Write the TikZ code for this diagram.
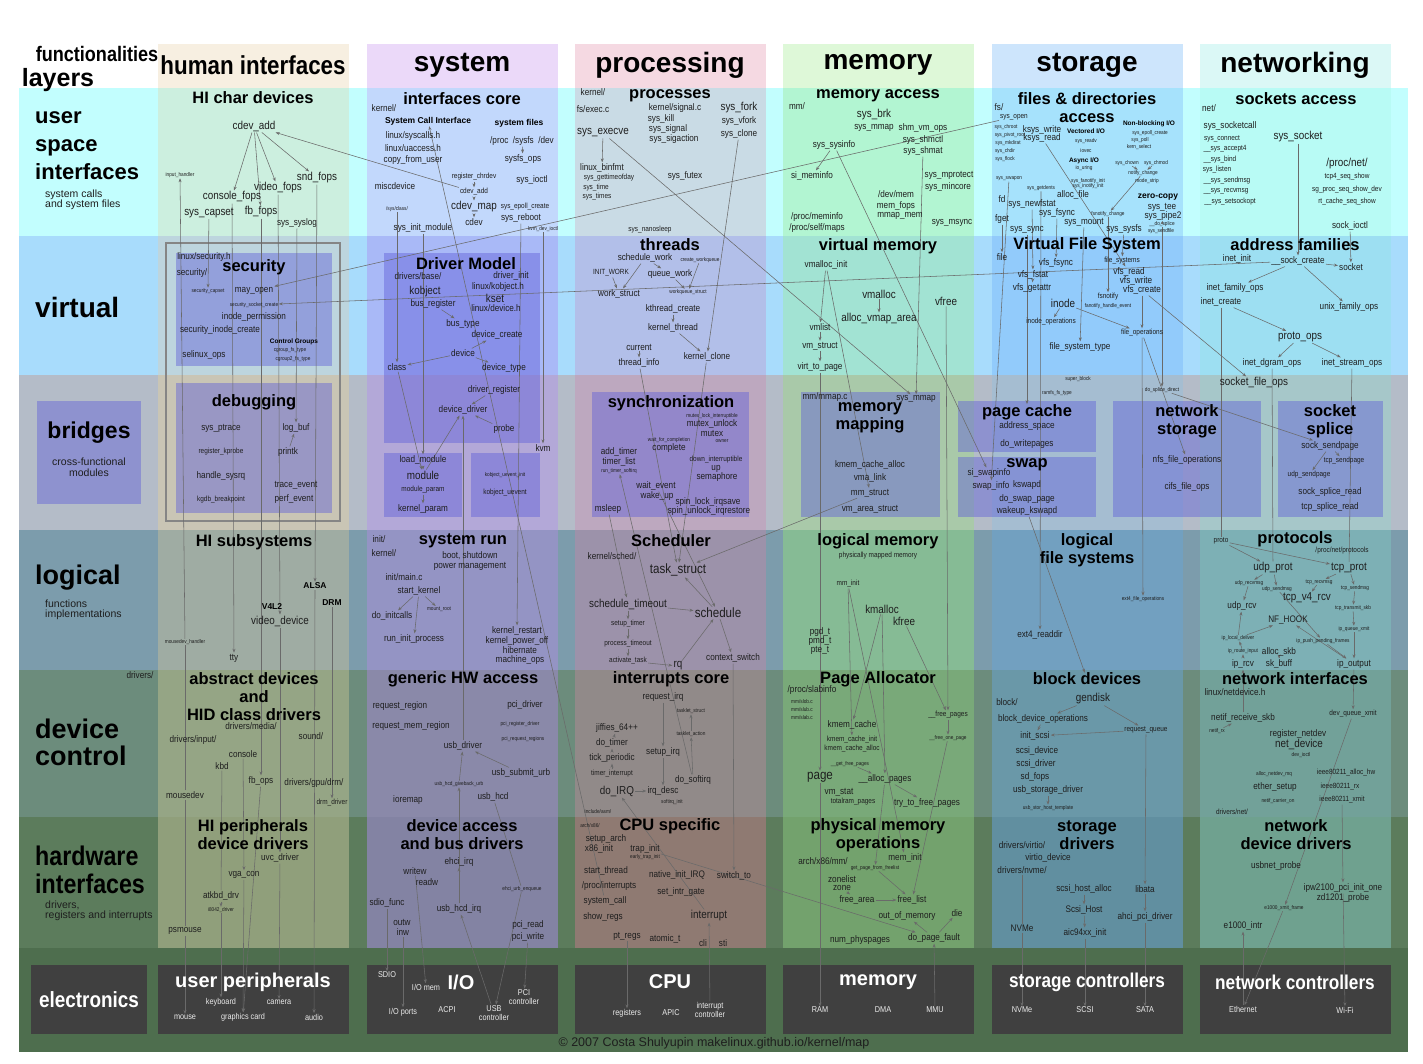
\documentclass[tikz,border=0pt]{standalone}
\usepackage{fontspec}
\setmainfont{Liberation Sans}
\newfontfamily\narrowfont[FakeStretch=0.86]{Liberation Sans}
\usetikzlibrary{arrows.meta}

% layer bands
\definecolor{rowA}{HTML}{C2FEFE}
\definecolor{rowB}{HTML}{A8DCFC}
\definecolor{rowC}{HTML}{B4BCC8}
\definecolor{rowD}{HTML}{7C9CAC}
\definecolor{rowE}{HTML}{6C8C7C}
\definecolor{rowF}{HTML}{5C7C5C}
\definecolor{rowG}{HTML}{4E6E4E}
% cells: row, column
\definecolor{cell11}{HTML}{CCEFDF}\definecolor{cell12}{HTML}{C2D8FC}\definecolor{cell13}{HTML}{C9DBE5}
\definecolor{cell14}{HTML}{B2F5D2}\definecolor{cell15}{HTML}{A6E2FC}\definecolor{cell16}{HTML}{B8FBF5}
\definecolor{cell21}{HTML}{BDD5DE}\definecolor{cell22}{HTML}{A9B9F7}\definecolor{cell23}{HTML}{B2BFE9}
\definecolor{cell24}{HTML}{A2E3D3}\definecolor{cell25}{HTML}{92CBFB}\definecolor{cell26}{HTML}{9DDFF2}
\definecolor{cell31}{HTML}{C9C5B5}\definecolor{cell32}{HTML}{B3A8D8}\definecolor{cell33}{HTML}{BDA8BF}
\definecolor{cell34}{HTML}{A9C9A9}\definecolor{cell35}{HTML}{A5BDD1}\definecolor{cell36}{HTML}{A6C7C9}
\definecolor{cell41}{HTML}{9FACA3}\definecolor{cell42}{HTML}{9494C4}\definecolor{cell43}{HTML}{9C92AA}
\definecolor{cell44}{HTML}{86BB95}\definecolor{cell45}{HTML}{72A0C0}\definecolor{cell46}{HTML}{7DB0B5}
\definecolor{cell51}{HTML}{95A585}\definecolor{cell52}{HTML}{8A89A9}\definecolor{cell53}{HTML}{918A89}
\definecolor{cell54}{HTML}{79A979}\definecolor{cell55}{HTML}{6A98A8}\definecolor{cell56}{HTML}{72A199}
\definecolor{cell61}{HTML}{909F7B}\definecolor{cell62}{HTML}{8383A3}\definecolor{cell63}{HTML}{8F7A72}
\definecolor{cell64}{HTML}{73A26D}\definecolor{cell65}{HTML}{618FA0}\definecolor{cell66}{HTML}{6FA18F}
% column headers
\definecolor{hd1}{HTML}{F7EFE1}\definecolor{hd2}{HTML}{EBD9F9}\definecolor{hd3}{HTML}{F5D9E2}
\definecolor{hd4}{HTML}{DEF8D8}\definecolor{hd5}{HTML}{CDE5FC}\definecolor{hd6}{HTML}{DBF8F6}
\definecolor{boxc}{HTML}{6060D8}
\definecolor{hwgray}{HTML}{404040}
\definecolor{framegray}{HTML}{858585}
\definecolor{wire}{HTML}{6A6A6A}
\definecolor{txt}{HTML}{1E1E1E}

\pgfdeclarelayer{bg}
\pgfdeclarelayer{wires}
\pgfsetlayers{bg,wires,main}

\tikzset{
  hdr/.style={font=\fontsize{28}{30}\selectfont\bfseries, inner sep=0pt},
  ttl/.style={font=\fontsize{16.5}{18}\selectfont\bfseries, align=center, inner sep=0pt},
  lyr/.style={font=\fontsize{22}{28}\selectfont\bfseries, align=left, anchor=west, inner sep=0pt},
  lsub/.style={font=\fontsize{10.5}{10.5}\selectfont, align=left, anchor=west, inner sep=0pt, text=txt},
  bg/.style={font=\narrowfont\fontsize{13.5}{14}\selectfont, inner sep=1pt, text=txt},
  fn/.style={font=\narrowfont\fontsize{11.5}{12}\selectfont, inner sep=1pt, text=txt},
  sm/.style={font=\narrowfont\fontsize{9.5}{10}\selectfont, inner sep=1pt, text=txt},
  xs/.style={font=\narrowfont\fontsize{7.5}{8}\selectfont, inner sep=1pt, text=txt},
  tn/.style={font=\narrowfont\fontsize{5.5}{6}\selectfont, inner sep=0.5pt, text=txt},
  bs/.style={font=\fontsize{8.5}{9}\selectfont\bfseries, inner sep=1pt},
  tb/.style={font=\fontsize{6.5}{7}\selectfont\bfseries, inner sep=0.5pt},
  subbox/.style={fill=boxc, fill opacity=0.45},
  hwt/.style={font=\fontsize{20}{22}\selectfont\bfseries, text=white, inner sep=0pt},
  hwl/.style={font=\narrowfont\fontsize{8.5}{9.5}\selectfont, text=white!92!black, align=center, inner sep=0.5pt},
  ar/.style={draw=wire, line width=0.55pt, -{Stealth[length=4pt,width=3pt]}},
  ln/.style={draw=wire, line width=0.55pt},
}

\begin{document}
\begin{tikzpicture}[x=1pt, y=-1pt]
\useasboundingbox (0,0) rectangle (1423,1063);

\begin{pgfonlayer}{bg}
  % Layer bands
  \foreach \c/\ya/\yb in {rowA/88/236, rowB/236/375, rowC/375/530, rowD/530/670,
                          rowE/670/817, rowF/817/948, rowG/948/1052}
    \fill[fill=\c] (19,\ya) rectangle (1408,\yb);
  % Column cells
  \foreach \r/\ya/\yb in {1/88/236, 2/236/375, 3/375/530, 4/530/670, 5/670/817, 6/817/948}
    \foreach \c/\xa in {1/158, 2/367, 3/575, 4/783, 5/992, 6/1200}
      \fill[fill=cell\r\c] (\xa,\ya) rectangle (\xa+191,\yb);
  % Column headers
  \foreach \c/\xa in {1/158, 2/367, 3/575, 4/783, 5/992, 6/1200}
    \fill[fill=hd\c] (\xa,44) rectangle (\xa+191,88);
  % Cross-functional boxes
  \fill[subbox] (37,401) rectangle (141,504);
  \fill[subbox] (176,253) rectangle (332,366);
  \fill[subbox] (176,383) rectangle (332,513);
  \fill[subbox] (384,253) rectangle (540,443);
  \fill[subbox] (384,453) rectangle (462,517);
  \fill[subbox] (471,453) rectangle (540,517);
  \fill[subbox] (592,392) rectangle (749,517);
  \fill[subbox] (801,392) rectangle (940,517);
  \fill[subbox] (958,401) rectangle (1096,452);
  \fill[subbox] (958,457) rectangle (1096,517);
  \fill[subbox] (1113,401) rectangle (1261,517);
  \fill[subbox] (1278,401) rectangle (1383,517);
  \draw[framegray, line width=1.3pt] (166,243) rectangle (340,521);
  % Electronics
  \fill[hwgray] (31,965) rectangle (147,1034);
  \foreach \xa in {158,367,575,783,992,1200}
    \fill[hwgray] (\xa,965) rectangle (\xa+191,1034);
\end{pgfonlayer}

% Headers
\node[font=\narrowfont\fontsize{21}{23}\selectfont\bfseries, inner sep=0pt] (hfunc) at (97,54) {functionalities};
\node[font=\fontsize{25}{27}\selectfont\bfseries, inner sep=0pt] (hlayers) at (58,80) {layers};
\node[hdr, font=\narrowfont\fontsize{26}{28}\selectfont\bfseries] (hhuman) at (253,65) {human interfaces};
\foreach \n/\px/\txt in {hsystem/462/system, hproc/670/processing, hmem/878/memory,
                         hstor/1087/storage, hnet/1295/networking}
  \node[hdr] (\n) at (\px,65) {\txt};

% Layer labels
\node[lyr] (luser) at (35,146) {user\\space\\interfaces};
\node[lsub] (lusersub) at (45,200) {system calls\\and system files};
\node[lyr, font=\fontsize{28}{30}\selectfont\bfseries] (lvirt) at (35,307) {virtual};
\node[font=\fontsize{23}{25}\selectfont\bfseries, inner sep=0pt] (lbridges) at (89,433) {bridges};
\node[lsub, anchor=center, align=center, font=\fontsize{10.5}{11}\selectfont] (lbridgessub) at (89,467) {cross-functional\\modules};
\node[lyr, font=\fontsize{27}{29}\selectfont\bfseries] (llogical) at (35,578) {logical};
\node[lsub] (llogicalsub) at (45,610) {functions\\implementations};
\node[lyr, font=\fontsize{27}{27}\selectfont\bfseries] (ldevice) at (35,742) {device\\control};
\node[lyr, font=\narrowfont\fontsize{27}{28}\selectfont\bfseries] (lhw) at (35,870) {hardware\\interfaces};
\node[lsub] (lhwsub) at (45,911) {drivers,\\registers and interrupts};
\node[font=\narrowfont\fontsize{22}{24}\selectfont\bfseries, text=white, inner sep=0pt] (lelec) at (89,1000) {electronics};
\node[sm] (driversdir) at (140,675) {drivers/};

% Cell titles
\foreach \n/\px/\py/\txt in {
  hichar/253/98/{HI char devices}, ifcore/462/99/{interfaces core}, processes/670/96/{processes},
  memaccess/878/96/{memory access}, filesdirs/1087/108/{files \& directories\\access},
  sockacc/1296/99/{sockets access},
  security/254/267/{security}, drivermodel/466/264/{Driver Model}, threads/670/245/{threads},
  virtmem/878/246/{virtual memory}, vfs/1087/245/{Virtual File System}, addrfam/1295/245/{address families},
  debugging/254/402/{debugging}, sync/671/403/{synchronization}, memmapping/870/418/{memory\\mapping},
  pagecache/1027/412/{page cache}, swap/1027/465/{swap}, netstorage/1187/421/{network\\storage},
  socksplice/1330/421/{socket\\splice},
  hisubsys/254/542/{HI subsystems}, sysrun/463/541/{system run}, scheduler/671/541/{Scheduler},
  logmem/878/541/{logical memory}, logfs/1087/550/{logical\\file systems}, protocols/1295/539/{protocols},
  absdev/254/697/{abstract devices\\and\\HID class drivers}, genhw/463/679/{generic HW access},
  irqcore/671/679/{interrupts core}, pagealloc/878/679/{Page Allocator}, blockdev/1087/679/{block devices},
  netif/1295/679/{network interfaces},
  hiperiph/253/835/{HI peripherals\\device drivers}, devaccess/462/835/{device access\\and bus drivers},
  cpuspec/670/826/{CPU specific}, physmem/878/835/{physical memory\\operations},
  stordrv/1087/835/{storage\\drivers}, netdevdrv/1296/835/{network\\device drivers}}
  \node[ttl] (\n) at (\px,\py) {\txt};

% Large labels
\foreach \n/\px/\py/\txt in {
  taskstruct/678/570/{task\_struct}, schedule/718/613/{schedule}, page/820/777/{page}}
  \node[bg] (\n) at (\px,\py) {\txt};

% Function labels
\foreach \n/\px/\py/\txt in {
  hicdevadd/254/126/{cdev\_add}, consolefops/232/197/{console\_fops}, videofops/278/188/{video\_fops},
  sndfops/317/178/{snd\_fops}, syscapset/209/213/{sys\_capset}, fbfops/261/212/{fb\_fops},
  cdevmap/474/207/{cdev\_map}, sysfork/739/108/{sys\_fork}, sysexecve/603/133/{sys\_execve},
  sysbrk/874/115/{sys\_brk}, syssocket/1298/137/{sys\_socket}, procnet/1347/164/{/proc/net/},
  kobject/425/292/{kobject}, kset/495/298/{kset}, vmalloc/879/294/{vmalloc}, vfree/946/301/{vfree},
  allocvmap/879/319/{alloc\_vmap\_area}, inode/1063/303/{inode}, protoops/1300/337/{proto\_ops},
  module/423/475/{module}, socketfileops/1254/383/{socket\_file\_ops},
  videodevice/280/621/{video\_device}, scheduletimeout/628/604/{schedule\_timeout}, rq/678/666/{rq},
  kmalloc/882/609/{kmalloc}, kfree/904/621/{kfree}, udpprot/1273/568/{udp\_prot},
  tcpprot/1349/568/{tcp\_prot}, tcpvrcv/1307/598/{tcp\_v4\_rcv}, doirq/617/791/{do\_IRQ},
  gendisk/1093/699/{gendisk}, netdevice/1299/744/{net\_device}, interrupt/709/916/{interrupt}}
  \node[fn] (\n) at (\px,\py) {\txt};

% Small labels
\foreach \n/\px/\py/\txt in {
  syssyslog/297/223/{sys\_syslog},
  kernelA/384/108/{kernel/}, syscallsh/413/136/{linux/syscalls.h}, uaccessh/413/148/{linux/uaccess.h},
  copyfromuser/413/160/{copy\_from\_user}, procsysfs/522/141/{/proc \ /sysfs \ /dev},
  sysfsops/523/159/{sysfs\_ops}, sysioctl/532/180/{sys\_ioctl}, miscdevice/395/186/{miscdevice},
  sysreboot/521/218/{sys\_reboot}, cdev/474/222/{cdev}, sysinitmodule/423/228/{sys\_init\_module},
  kernelB/593/92/{kernel/}, fsexec/593/109/{fs/exec.c}, signalc/675/108/{kernel/signal.c},
  syskill/661/119/{sys\_kill}, sysvfork/739/121/{sys\_vfork}, syssignal/668/129/{sys\_signal},
  sysclone/739/134/{sys\_clone}, syssigaction/674/139/{sys\_sigaction}, linuxbinfmt/602/168/{linux\_binfmt},
  sysfutex/685/176/{sys\_futex},
  mmdir/797/106/{mm/}, sysmmap/874/128/{sys\_mmap}, shmvmops/923/128/{shm\_vm\_ops},
  sysshmctl/923/140/{sys\_shmctl}, syssysinfo/834/145/{sys\_sysinfo}, sysshmat/923/151/{sys\_shmat},
  simeminfo/812/176/{si\_meminfo}, sysmprotect/949/175/{sys\_mprotect}, sysmincore/948/187/{sys\_mincore},
  devmem/896/194/{/dev/mem}, memfops/896/206/{mem\_fops}, mmapmem/900/216/{mmap\_mem},
  procmeminfo/817/217/{/proc/meminfo}, procselfmaps/817/228/{/proc/self/maps}, sysmsync/952/223/{sys\_msync},
  fsdir/999/107/{fs/}, ksyswrite/1042/130/{ksys\_write}, ksysread/1042/138/{ksys\_read},
  allocfile/1073/195/{alloc\_file}, fd/1002/199/{fd}, sysnewfstat/1032/204/{sys\_newfstat},
  systee/1162/207/{sys\_tee}, sysfsync/1057/213/{sys\_fsync}, syspipe/1163/216/{sys\_pipe2},
  fget/1002/219/{fget}, sysmount/1084/222/{sys\_mount}, syssync/1027/230/{sys\_sync},
  syssysfs/1124/229/{sys\_sysfs},
  netdir/1209/108/{net/}, syssocketcall/1230/126/{sys\_socketcall}, sockioctl/1350/226/{sock\_ioctl},
  securityh/204/257/{linux/security.h}, securitydir/192/273/{security/}, mayopen/254/291/{may\_open},
  inodeperm/254/317/{inode\_permission}, secinodecreate/220/330/{security\_inode\_create},
  selinuxops/204/355/{selinux\_ops},
  driversbase/418/276/{drivers/base/}, driverinit/511/276/{driver\_init}, kobjecth/498/287/{linux/kobject.h},
  busregister/433/304/{bus\_register}, deviceh/496/308/{linux/device.h}, bustype/463/324/{bus\_type},
  devicecreate/497/335/{device\_create}, device/463/353/{device}, class/397/367/{class},
  devicetype/504/368/{device\_type},
  schedulework/645/258/{schedule\_work}, queuework/670/274/{queue\_work}, workstruct/619/294/{work\_struct},
  kthreadcreate/673/309/{kthread\_create}, kernelthread/673/328/{kernel\_thread}, current/639/347/{current},
  kernelclone/707/357/{kernel\_clone}, threadinfo/639/363/{thread\_info},
  vmallocinit/826/265/{vmalloc\_init}, vmlist/820/327/{vmlist}, vmstruct/820/346/{vm\_struct},
  virttopage/820/367/{virt\_to\_page},
  file/1002/257/{file}, vfsfsync/1056/263/{vfs\_fsync}, vfsread/1129/272/{vfs\_read},
  vfsfstat/1033/275/{vfs\_fstat}, vfswrite/1136/281/{vfs\_write}, vfsgetattr/1032/288/{vfs\_getattr},
  vfscreate/1142/290/{vfs\_create}, filesystype/1080/347/{file\_system\_type},
  inetinit/1237/259/{inet\_init}, sockcreate/1298/261/{\_\_sock\_create}, socket/1351/267/{socket},
  inetfamilyops/1235/288/{inet\_family\_ops}, inetcreate/1221/302/{inet\_create},
  unixfamilyops/1349/307/{unix\_family\_ops}, inetdgramops/1272/363/{inet\_dgram\_ops},
  inetstreamops/1352/363/{inet\_stream\_ops},
  sysptrace/221/428/{sys\_ptrace}, logbuf/296/428/{log\_buf}, printk/288/452/{printk},
  handlesysrq/221/476/{handle\_sysrq}, traceevent/296/485/{trace\_event}, perfevent/294/499/{perf\_event},
  driverregister/494/390/{driver\_register}, devicedriver/463/410/{device\_driver}, probe/504/429/{probe},
  kvm/543/448/{kvm}, loadmodule/423/460/{load\_module}, kernelparam/423/509/{kernel\_param},
  mutexunlock/712/424/{mutex\_unlock}, mutex/712/433/{mutex}, complete/669/448/{complete},
  addtimer/619/452/{add\_timer}, timerlist/619/462/{timer\_list}, up/716/469/{up},
  semaphore/717/477/{semaphore}, waitevent/656/486/{wait\_event}, wakeup/657/496/{wake\_up},
  spinlock/708/502/{spin\_lock\_irqsave}, spinunlock/709/511/{spin\_unlock\_irqrestore}, msleep/608/509/{msleep},
  mmapc/825/397/{mm/mmap.c}, mmsysmmap/916/399/{sys\_mmap}, kmcachealloc/870/465/{kmem\_cache\_alloc},
  vmalink/870/478/{vma\_link}, mmstruct/870/493/{mm\_struct}, vmareastruct/870/509/{vm\_area\_struct},
  addrspace/1027/426/{address\_space}, dowritepages/1027/444/{do\_writepages}, siswapinfo/989/473/{si\_swapinfo},
  swapinfo/991/486/{swap\_info}, kswapd/1027/485/{kswapd}, doswappage/1027/499/{do\_swap\_page},
  wakeupkswapd/1027/511/{wakeup\_kswapd}, nfsfileops/1187/460/{nfs\_file\_operations},
  cifsfileops/1187/487/{cifs\_file\_ops},
  socksendpage/1330/446/{sock\_sendpage}, socksplread/1330/492/{sock\_splice\_read},
  tcpsplread/1330/507/{tcp\_splice\_read},
  tty/234/658/{tty},
  initdir/379/539/{init/}, kernelC/384/553/{kernel/}, initmainc/404/577/{init/main.c},
  startkernel/419/591/{start\_kernel}, doinitcalls/392/616/{do\_initcalls}, runinit/414/639/{run\_init\_process},
  kernelrestart/517/631/{kernel\_restart}, kernelpoweroff/517/641/{kernel\_power\_off},
  hibernate/520/650/{hibernate}, machineops/520/660/{machine\_ops},
  kernelsched/612/556/{kernel/sched/}, contextswitch/733/658/{context\_switch},
  pgdt/820/632/{pgd\_t}, pmdt/820/641/{pmd\_t}, ptet/820/650/{pte\_t}, ext4readdir/1040/635/{ext4\_readdir},
  udprcv/1242/606/{udp\_rcv}, nfhook/1288/620/{NF\_HOOK}, allocskb/1279/652/{alloc\_skb},
  iprcv/1243/664/{ip\_rcv}, skbuff/1279/664/{sk\_buff}, ipoutput/1354/664/{ip\_output},
  driversmedia/251/726/{drivers/media/}, sound/311/736/{sound/}, driversinput/193/740/{drivers/input/},
  console/243/754/{console}, kbd/222/766/{kbd}, fbops/261/781/{fb\_ops}, driversgpu/314/783/{drivers/gpu/drm/},
  mousedev/185/795/{mousedev},
  requestregion/400/706/{request\_region}, pcidriver/525/705/{pci\_driver},
  requestmemregion/411/726/{request\_mem\_region}, usbdriver/463/746/{usb\_driver},
  usbsubmiturb/521/773/{usb\_submit\_urb}, ioremap/408/800/{ioremap}, usbhcd/493/797/{usb\_hcd},
  requestirq/663/697/{request\_irq}, jiffies/617/728/{jiffies\_64++}, dotimer/612/743/{do\_timer},
  setupirq/663/752/{setup\_irq}, tickperiodic/612/758/{tick\_periodic}, dosoftirq/693/780/{do\_softirq},
  irqdesc/663/791/{irq\_desc},
  procslabinfo/812/690/{/proc/slabinfo}, kmemcache/852/725/{kmem\_cache}, allocpages/885/779/{\_\_alloc\_pages},
  vmstat/839/792/{vm\_stat}, trytofree/927/803/{try\_to\_free\_pages},
  blockdir/1007/702/{block/}, blockdevops/1043/719/{block\_device\_operations}, initscsi/1035/736/{init\_scsi},
  scsidevice/1037/751/{scsi\_device}, scsidriver/1036/764/{scsi\_driver}, sdfops/1035/777/{sd\_fops},
  usbstoragedriver/1048/790/{usb\_storage\_driver},
  netdeviceh/1235/692/{linux/netdevice.h}, netifreceiveskb/1243/718/{netif\_receive\_skb},
  registernetdev/1298/734/{register\_netdev}, ethersetup/1275/787/{ether\_setup},
  uvcdriver/280/858/{uvc\_driver}, vgacon/244/875/{vga\_con}, atkbddrv/221/896/{atkbd\_drv},
  psmouse/185/931/{psmouse},
  ehciirq/459/862/{ehci\_irq}, writew/415/871/{writew}, readw/427/882/{readw}, sdiofunc/387/903/{sdio\_func},
  usbhcdirq/459/909/{usb\_hcd\_irq}, outw/402/922/{outw}, inw/403/932/{inw}, pciread/528/925/{pci\_read},
  pciwrite/528/937/{pci\_write},
  setuparch/606/839/{setup\_arch}, xinit/599/849/{x86\_init}, trapinit/645/849/{trap\_init},
  startthread/606/871/{start\_thread}, nativeinitirq/677/875/{native\_init\_IRQ}, switchto/734/876/{switch\_to},
  procinterrupts/609/886/{/proc/interrupts}, setintrgate/681/892/{set\_intr\_gate},
  systemcall/605/901/{system\_call}, showregs/603/917/{show\_regs}, ptregs/627/936/{pt\_regs},
  atomict/665/939/{atomic\_t}, cli/703/943/{cli}, sti/723/943/{sti},
  archmm/823/861/{arch/x86/mm/}, meminit/905/858/{mem\_init}, zonelist/842/879/{zonelist}, zone/842/888/{zone},
  freearea/857/900/{free\_area}, freelist/912/900/{free\_list}, outofmemory/907/916/{out\_of\_memory},
  die/957/913/{die}, numphyspages/860/940/{num\_physpages}, dopagefault/934/938/{do\_page\_fault},
  driversvirtio/1022/845/{drivers/virtio/}, virtiodevice/1048/858/{virtio\_device},
  driversnvme/1022/870/{drivers/nvme/}, scsihostalloc/1084/889/{scsi\_host\_alloc}, libata/1145/889/{libata},
  scsihost/1084/910/{Scsi\_Host}, ahcipcidriver/1145/917/{ahci\_pci\_driver}, nvmedrv/1022/928/{NVMe},
  aicinit/1085/933/{aic94xx\_init},
  usbnetprobe/1276/866/{usbnet\_probe}, ipw/1343/888/{ipw2100\_pci\_init\_one},
  zdprobe/1343/898/{zd1201\_probe}, eintr/1243/926/{e1000\_intr}}
  \node[sm] (\n) at (\px,\py) {\txt};
\node[sm, align=center, font=\narrowfont\fontsize{9.5}{10}\selectfont] (bootshut) at (470,561) {boot, shutdown\\power management};

% Very small labels
\foreach \n/\px/\py/\txt in {
  registerchrdev/474/177/{register\_chrdev}, sccdevadd/474/192/{cdev\_add}, sysepollA/525/207/{sys\_epoll\_create},
  sysgettimeofday/609/178/{sys\_gettimeofday}, systime/596/188/{sys\_time}, systimes/597/197/{sys\_times},
  sysnanosleep/650/230/{sys\_nanosleep}, sysopen/1014/117/{sys\_open},
  sysconnect/1222/139/{sys\_connect}, sysaccept/1225/149/{\_\_sys\_accept4}, sysbind/1220/160/{\_\_sys\_bind},
  syslisten/1217/170/{sys\_listen}, tcpseqshow/1347/177/{tcp4\_seq\_show}, syssendmsg/1227/181/{\_\_sys\_sendmsg},
  sgproc/1347/190/{sg\_proc\_seq\_show\_dev}, sysrecvmsg/1226/191/{\_\_sys\_recvmsg},
  rtcache/1347/202/{rt\_cache\_seq\_show}, syssetsockopt/1230/202/{\_\_sys\_setsockopt},
  initwork/611/273/{INIT\_WORK}, filesystems/1122/261/{file\_systems}, fsnotify/1108/297/{fsnotify},
  inodeops/1051/322/{inode\_operations}, fileops/1142/333/{file\_operations},
  registerkprobe/221/452/{register\_kprobe}, kgdb/221/500/{kgdb\_breakpoint},
  moduleparam/423/490/{module\_param}, kobjectuevent/505/493/{kobject\_uevent},
  downint/716/460/{down\_interruptible}, tcpsendpage/1344/461/{tcp\_sendpage}, udpsendpage/1309/475/{udp\_sendpage},
  setuptimer/628/624/{setup\_timer}, processtimeout/628/644/{process\_timeout}, activatetask/628/661/{activate\_task},
  physmapped/878/556/{physically mapped memory}, mminit/848/584/{mm\_init},
  proto/1221/541/{proto}, procnetproto/1342/551/{/proc/net/protocols},
  drmdriver/332/803/{drm\_driver}, timerinterrupt/612/774/{timer\_interrupt},
  freepages/948/715/{\_\_free\_pages}, kmemcacheinit/852/740/{kmem\_cache\_init},
  pakmemcachealloc/852/749/{kmem\_cache\_alloc}, totalram/853/802/{totalram\_pages},
  requestqueue/1146/730/{request\_queue}, devqueuexmit/1353/714/{dev\_queue\_xmit},
  ieeeallochw/1346/773/{ieee80211\_alloc\_hw}, ieeerx/1340/787/{ieee80211\_rx},
  ieeexmit/1342/800/{ieee80211\_xmit}, driversnet/1232/812/{drivers/net/}}
  \node[xs] (\n) at (\px,\py) {\txt};

% Tiny labels
\foreach \n/\px/\py/\txt in {
  inputhandler/180/175/{input\_handler}, sysclass/397/209/{/sys/class/}, kvmdevioctl/543/229/{kvm\_dev\_ioctl},
  syschroot/1006/127/{sys\_chroot}, syspivot/1010/135/{sys\_pivot\_root}, sysmkdirat/1008/143/{sys\_mkdirat},
  syschdir/1005/151/{sys\_chdir}, sysflock/1005/159/{sys\_flock}, sysepollB/1150/133/{sys\_epoll\_create},
  syspoll/1140/140/{sys\_poll}, kernselect/1139/147/{kern\_select}, sysreadv/1086/141/{sys\_readv},
  iovec/1086/151/{iovec}, iouring/1084/168/{io\_uring}, syschown/1127/163/{sys\_chown},
  syschmod/1156/163/{sys\_chmod}, notifychange/1143/173/{notify\_change}, modestrip/1147/181/{mode\_strip},
  sysswapon/1009/179/{sys\_swapon}, fanotifyinit/1088/181/{sys\_fanotify\_init},
  inotifyinit/1088/186/{sys\_inotify\_init}, sysgetdents/1041/188/{sys\_getdents},
  fsnotifychange/1108/214/{fsnotify\_change}, dosplice/1162/224/{\_\_do\_splice},
  syssendfile/1161/231/{sys\_sendfile},
  seccapset/208/291/{security\_capset}, secsocketcreate/254/305/{security\_socket\_create},
  cgroupfs/290/350/{cgroup\_fs\_type}, cgroupfsB/293/359/{cgroup2\_fs\_type},
  createwq/700/260/{create\_workqueue}, wqstruct/688/292/{workqueue\_struct},
  fanotifyev/1108/306/{fanotify\_handle\_event}, kobjueventinit/505/475/{kobject\_uevent\_init},
  mutexlockint/712/416/{mutex\_lock\_interruptible}, waitforcomp/669/440/{wait\_for\_completion},
  owner/722/441/{owner}, runtimersoftirq/619/471/{run\_timer\_softirq},
  superblock/1078/379/{super\_block}, ramfs/1057/393/{ramfs\_fs\_type}, dosplicedirect/1162/390/{do\_splice\_direct},
  mousedevhandler/185/642/{mousedev\_handler}, mountroot/439/609/{mount\_root},
  ext4fileops/1143/599/{ext4\_file\_operations},
  udprecvmsg/1249/583/{udp\_recvmsg}, tcprecvmsg/1319/582/{tcp\_recvmsg}, udpsendmsg/1277/589/{udp\_sendmsg},
  tcpsendmsg/1355/588/{tcp\_sendmsg}, tcptransmit/1353/608/{tcp\_transmit\_skb},
  ipqueuexmit/1354/629/{ip\_queue\_xmit}, iplocaldeliver/1238/638/{ip\_local\_deliver},
  ippush/1323/641/{ip\_push\_pending\_frames}, iprouteinput/1243/651/{ip\_route\_input},
  pciregisterdriver/520/724/{pci\_register\_driver}, pcirequestregions/523/739/{pci\_request\_regions},
  usbhcdgiveback/459/784/{usb\_hcd\_giveback\_urb},
  taskletstruct/691/711/{tasklet\_struct}, taskletaction/691/734/{tasklet\_action},
  softirqinit/672/802/{softirq\_init}, includeasm/598/812/{include/asm/},
  mmslob/802/702/{mm/slob.c}, mmslub/802/710/{mm/slub.c}, mmslab/802/718/{mm/slab.c},
  getfreepages/850/764/{\_\_get\_free\_pages}, freeonepage/948/738/{\_\_free\_one\_page},
  usbstorhost/1048/808/{usb\_stor\_host\_template},
  netifrx/1217/731/{netif\_rx}, devioctl/1301/755/{dev\_ioctl}, allocnetdevmq/1274/774/{alloc\_netdev\_mq},
  netifcarrieron/1278/801/{netif\_carrier\_on},
  ieight/221/910/{i8042\_driver}, ehciurbenqueue/522/889/{ehci\_urb\_enqueue},
  archxdir/590/826/{arch/x86/}, earlytrapinit/645/857/{early\_trap\_init},
  getpagefromfreelist/875/868/{get\_page\_from\_freelist}, exmitframe/1284/908/{e1000\_xmit\_frame}}
  \node[tn] (\n) at (\px,\py) {\txt};

% Bold captions
\foreach \n/\px/\py/\txt in {
  sci/428/121/{System Call Interface}, sysfiles/519/123/{system files}, zerocopy/1158/197/{zero-copy},
  alsa/315/586/{ALSA}, vfl/272/607/{V4L2}, drm/332/603/{DRM}}
  \node[bs] (\n) at (\px,\py) {\txt};
\foreach \n/\px/\py/\txt in {
  vecio/1086/131/{Vectored I/O}, nbio/1149/124/{Non-blocking I/O}, asyncio/1084/161/{Async I/O},
  cgroups/294/342/{Control Groups}}
  \node[tb] (\n) at (\px,\py) {\txt};

% Electronics
\foreach \n/\px/\txt in {userperiph/253/{user peripherals}, io/461/{I/O}, cpu/670/{CPU}, memhw/878/{memory}}
  \node[hwt] (\n) at (\px,982) {\txt};
\node[hwt, font=\narrowfont\fontsize{20}{22}\selectfont\bfseries] (storctrl) at (1087,982) {storage controllers};
\node[hwt, font=\narrowfont\fontsize{20}{22}\selectfont\bfseries] (netctrl) at (1295,982) {network controllers};
\foreach \n/\px/\py/\txt in {
  keyboard/221/1002/{keyboard}, camera/279/1002/{camera}, mouse/185/1017/{mouse},
  graphicscard/243/1017/{graphics card}, audio/314/1017/{audio}, sdio/387/975/{SDIO},
  iomem/426/987/{I/O mem}, pcictrl/524/997/{PCI\\controller}, ioports/403/1012/{I/O ports},
  acpi/447/1010/{ACPI}, usbctrl/494/1013/{USB\\controller}, registers/627/1013/{registers},
  apic/671/1013/{APIC}, irqctrl/710/1010/{interrupt\\controller}, ram/820/1010/{RAM},
  dma/883/1010/{DMA}, mmu/935/1010/{MMU}, nvme/1022/1010/{NVMe}, scsi/1085/1010/{SCSI},
  sata/1145/1010/{SATA}, ethernet/1243/1009/{Ethernet}, wifi/1345/1010/{Wi-Fi}}
  \node[hwl] (\n) at (\px,\py) {\txt};

\node[font=\fontsize{12.5}{13}\selectfont, text=txt, inner sep=0pt] (copyr) at (714,1043)
  {© 2007 Costa Shulyupin makelinux.github.io/kernel/map};

% Connectors
\begin{pgfonlayer}{wires}
  \foreach \a/\b in {
    % human interfaces
    hicdevadd/consolefops, hicdevadd/fbfops, hicdevadd/videofops, hicdevadd/sndfops,
    sccdevadd/hicdevadd, syscapset/seccapset, mousedevhandler/inputhandler, psmouse/mouse,
    consolefops/tty, fbfops/fbops, videofops/videodevice, sndfops/alsa, syssyslog/logbuf,
    printk/logbuf, atkbddrv/ieight, ieight/keyboard, console/vgacon, vgacon/graphicscard,
    fbops/graphicscard, videodevice/uvcdriver, uvcdriver/camera, alsa/audio, drm/drmdriver,
    % system
    registerchrdev/sccdevadd, sccdevadd/cdevmap, cdevmap/cdev, procsysfs/sysfsops,
    systemcall/sci, sysinitmodule/loadmodule, sysclass/class, sysreboot/kernelrestart,
    kvmdevioctl/kvm, busregister/bustype, device/class, device/devicetype, device/devicecreate,
    driverregister/devicedriver, probe/devicedriver, module/devicedriver, class/module,
    loadmodule/module, moduleparam/kernelparam, usbdriver/devicedriver,
    startkernel/doinitcalls, startkernel/runinit, startkernel/mountroot,
    usbsubmiturb/usbdriver, usbhcdgiveback/usbdriver, usbhcdirq/usbhcdgiveback,
    usbhcdirq/ehciirq, usbctrl/usbhcdirq, ehciurbenqueue/usbctrl, pciwrite/pcictrl,
    sdiofunc/sdio, writew/iomem, inw/ioports,
    % processing
    sysexecve/linuxbinfmt, sysexecve/mmsysmmap, sysclone/kernelclone,
    schedulework/workstruct, schedulework/queuework, initwork/workstruct, queuework/wqstruct,
    createwq/wqstruct, kthreadcreate/kernelthread, kernelthread/kernelclone, current/threadinfo,
    kernelclone/taskstruct, threadinfo/taskstruct, msleep/scheduletimeout, waitevent/schedule,
    scheduletimeout/schedule, scheduletimeout/setuptimer, setuptimer/processtimeout,
    processtimeout/activatetask, activatetask/rq, rq/schedule, schedule/taskstruct,
    schedule/contextswitch, contextswitch/switchto, requestirq/setupirq, setupirq/irqdesc,
    doirq/irqdesc, timerinterrupt/tickperiodic, tickperiodic/dotimer, dotimer/jiffies,
    dosoftirq/taskletaction, taskletaction/taskletstruct, dosoftirq/runtimersoftirq,
    interrupt/doirq, irqctrl/interrupt, ptregs/registers, trapinit/dopagefault,
    % memory
    syssysinfo/simeminfo, syssysinfo/siswapinfo, sysshmat/mmsysmmap, vmalloc/allocvmap,
    vmallocinit/vmlist, vmlist/vmstruct, vmstruct/virttopage, vmallocinit/mmstruct,
    mmstruct/taskstruct, virttopage/page, page/ram, vfree/freepages, kfree/freepages,
    freepages/freeonepage, freeonepage/freelist, kmalloc/kmemcache, kmalloc/allocpages,
    mminit/kmemcacheinit, mminit/meminit, getfreepages/allocpages, allocpages/trytofree,
    allocpages/getpagefromfreelist, getpagefromfreelist/freelist, zone/freearea,
    freearea/freelist, dopagefault/outofmemory, dopagefault/die, mmu/dopagefault,
    % storage
    sysopen/mayopen, ksysread/vfsread, sysfsync/vfsfsync, sysnewfstat/vfsfstat,
    vfsfstat/vfsgetattr, fget/file, sysmount/filesystype, syssysfs/filesystems,
    fsnotifychange/fsnotify, notifychange/fsnotifychange, syschmod/notifychange,
    syschown/notifychange, vfscreate/fileops, fileops/ext4fileops, fileops/nfsfileops,
    inode/inodeops, inode/fileops, vfscreate/socketfileops, syspipe/dosplice,
    dosplice/dosplicedirect, dosplicedirect/socksendpage, sysgetdents/ext4readdir,
    sysswapon/swapinfo, syssync/pagecache, wakeupkswapd/blockdev, gendisk/blockdevops,
    gendisk/requestqueue, blockdevops/initscsi, requestqueue/initscsi,
    usbstoragedriver/usbstorhost, requestqueue/libata, scsihostalloc/scsihost,
    scsihost/aicinit, aicinit/scsi, libata/ahcipcidriver, ahcipcidriver/sata, nvmedrv/nvme,
    % networking
    syssocket/sockcreate, sockioctl/socket, sockcreate/socket, sockcreate/inetfamilyops,
    sockcreate/unixfamilyops, sockcreate/secsocketcreate, inetcreate/protoops,
    protoops/inetdgramops, protoops/inetstreamops, proto/udpprot, proto/tcpprot,
    udpprot/udprecvmsg, udpprot/udpsendmsg, tcpprot/tcprecvmsg, tcpprot/tcpsendmsg,
    udprecvmsg/udprcv, tcprecvmsg/tcpvrcv, tcpsendmsg/tcptransmit, tcptransmit/ipqueuexmit,
    ipqueuexmit/ipoutput, udpsendmsg/ippush, ippush/ipoutput, ipoutput/nfhook,
    iplocaldeliver/nfhook, iplocaldeliver/udprcv, iprouteinput/iplocaldeliver,
    iprcv/iprouteinput, allocskb/skbuff, netifreceiveskb/iprcv, netifrx/netifreceiveskb,
    ipoutput/devqueuexmit, devqueuexmit/exmitframe, exmitframe/ethernet, ethernet/eintr,
    ieeexmit/ipw, ipw/wifi, socksendpage/tcpsendpage, socksendpage/udpsendpage}
    \draw[ar] (\a) -- (\b);
  % plain joins
  \foreach \a/\b in {mousedev/mousedevhandler, mousedev/psmouse, kbd/atkbddrv,
                     inetcreate/proto, inetdgramops/udpprot, inetstreamops/tcpprot,
                     usbhcd/ehciurbenqueue, driversnvme/nvmedrv}
    \draw[ln] (\a) -- (\b);
\end{pgfonlayer}

\end{tikzpicture}
\end{document}
